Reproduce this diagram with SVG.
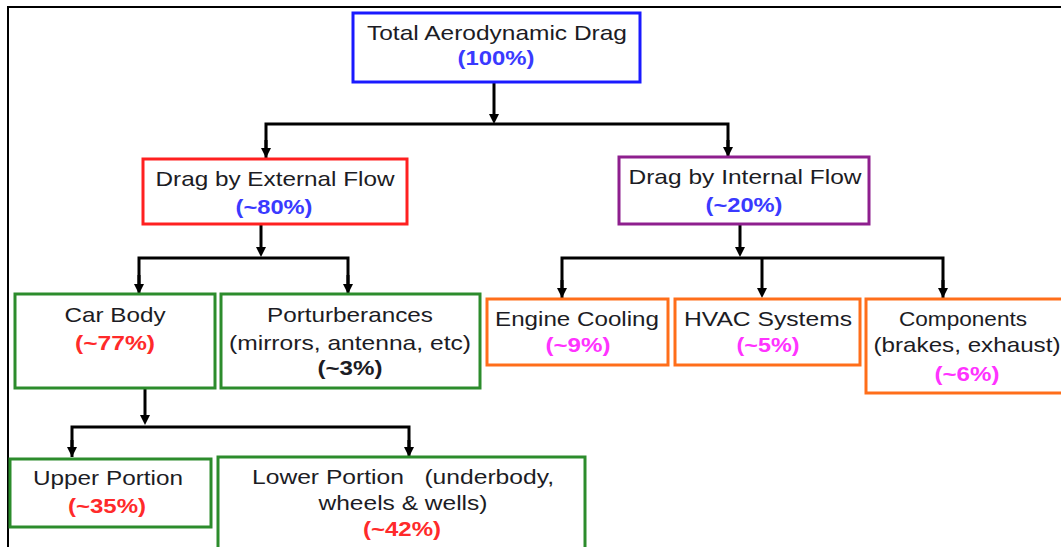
<svg xmlns="http://www.w3.org/2000/svg" width="1061" height="547" viewBox="0 0 1061 547">
<style>
text{font-family:"Liberation Sans",Arial,sans-serif;font-size:21px;text-anchor:middle;fill:#1c1c24;white-space:pre}
.p{font-weight:bold}
.blue{fill:#3a3aff}.red{fill:#ff2a2a}.mag{fill:#ff33ff}.blk{fill:#1c1c24}
rect{fill:#fff;stroke-width:3}
.bb{stroke:#1a1aff}.rb{stroke:#ff2020}.pb{stroke:#8e1f8e}.gb{stroke:#2c8c2c}.ob{stroke:#ff6e1a}
.c line,.c path{stroke:#000;stroke-width:3;fill:none}
</style>
<defs>
<marker id="ah" viewBox="0 0 10 10" refX="2" refY="5" markerWidth="10" markerHeight="10" markerUnits="userSpaceOnUse" orient="auto">
<path d="M0,0 L10,5 L0,10 z" fill="#000"/>
</marker>
</defs>
<rect width="1061" height="547" style="fill:#fff;stroke:none"/>
<path d="M8,547 V7 H1061" style="fill:none;stroke:#000;stroke-width:2"/>

<g class="c" id="connectors">
<line x1="494" y1="82" x2="494" y2="116" marker-end="url(#ah)"/>
<path d="M266,158 V124 H728 V157"/>
<line x1="266" y1="140" x2="266" y2="150" marker-end="url(#ah)"/>
<line x1="728" y1="140" x2="728" y2="149" marker-end="url(#ah)"/>
<line x1="261" y1="224" x2="261" y2="249" marker-end="url(#ah)"/>
<path d="M139,294 V258 H348 V294"/>
<line x1="139" y1="275" x2="139" y2="286" marker-end="url(#ah)"/>
<line x1="348" y1="275" x2="348" y2="286" marker-end="url(#ah)"/>
<line x1="740" y1="224" x2="740" y2="249" marker-end="url(#ah)"/>
<path d="M562,298 V258 H943 V298"/>
<line x1="562" y1="280" x2="562" y2="290" marker-end="url(#ah)"/>
<line x1="762" y1="258" x2="762" y2="290" marker-end="url(#ah)"/>
<line x1="943" y1="280" x2="943" y2="290" marker-end="url(#ah)"/>
<line x1="145" y1="388" x2="145" y2="417" marker-end="url(#ah)"/>
<path d="M72,457 V427 H409 V457"/>
<line x1="72" y1="440" x2="72" y2="449" marker-end="url(#ah)"/>
<line x1="409" y1="440" x2="409" y2="449" marker-end="url(#ah)"/>
</g>

<g id="total">
<rect class="bb" x="353" y="13" width="287" height="69"/>
<text x="497" y="40" textLength="260" lengthAdjust="spacingAndGlyphs">Total Aerodynamic Drag</text>
<text class="p blue" x="496" y="65" textLength="77" lengthAdjust="spacingAndGlyphs">(100%)</text>
</g>

<g id="external">
<rect class="rb" x="143" y="159" width="264" height="65"/>
<text x="275" y="186" textLength="239" lengthAdjust="spacingAndGlyphs">Drag by External Flow</text>
<text class="p blue" x="274" y="214" textLength="77" lengthAdjust="spacingAndGlyphs">(~80%)</text>
</g>

<g id="internal">
<rect class="pb" x="619" y="157" width="250" height="67"/>
<text x="745" y="184" textLength="233" lengthAdjust="spacingAndGlyphs">Drag by Internal Flow</text>
<text class="p blue" x="744" y="212" textLength="77" lengthAdjust="spacingAndGlyphs">(~20%)</text>
</g>

<g id="carbody">
<rect class="gb" x="15" y="294" width="200" height="94"/>
<text x="115" y="322" textLength="101" lengthAdjust="spacingAndGlyphs">Car Body</text>
<text class="p red" x="115" y="350" textLength="80" lengthAdjust="spacingAndGlyphs">(~77%)</text>
</g>

<g id="protuberances">
<rect class="gb" x="221" y="294" width="259" height="94"/>
<text x="350" y="322" textLength="166" lengthAdjust="spacingAndGlyphs">Porturberances</text>
<text x="350" y="350" textLength="242" lengthAdjust="spacingAndGlyphs">(mirrors, antenna, etc)</text>
<text class="p blk" x="350" y="375" textLength="65" lengthAdjust="spacingAndGlyphs">(~3%)</text>
</g>

<g id="engine">
<rect class="ob" x="487" y="299" width="181" height="66"/>
<text x="577" y="326" textLength="164" lengthAdjust="spacingAndGlyphs">Engine Cooling</text>
<text class="p mag" x="578" y="352" textLength="65" lengthAdjust="spacingAndGlyphs">(~9%)</text>
</g>

<g id="hvac">
<rect class="ob" x="675" y="299" width="185" height="66"/>
<text x="768" y="326" textLength="168" lengthAdjust="spacingAndGlyphs">HVAC Systems</text>
<text class="p mag" x="768" y="352" textLength="63" lengthAdjust="spacingAndGlyphs">(~5%)</text>
</g>

<g id="components">
<rect class="ob" x="866" y="299" width="200" height="94"/>
<text x="963" y="326" textLength="128" lengthAdjust="spacingAndGlyphs">Components</text>
<text x="967" y="352" textLength="187" lengthAdjust="spacingAndGlyphs">(brakes, exhaust)</text>
<text class="p mag" x="967" y="381" textLength="65" lengthAdjust="spacingAndGlyphs">(~6%)</text>
</g>

<g id="upper">
<rect class="gb" x="10" y="459" width="201" height="68"/>
<text x="108" y="485" textLength="150" lengthAdjust="spacingAndGlyphs">Upper Portion</text>
<text class="p red" x="107" y="513" textLength="78" lengthAdjust="spacingAndGlyphs">(~35%)</text>
</g>

<g id="lower">
<rect class="gb" x="218" y="457" width="367" height="100"/>
<text x="403" y="484" textLength="302" lengthAdjust="spacingAndGlyphs">Lower Portion   (underbody,</text>
<text x="403" y="510" textLength="169" lengthAdjust="spacingAndGlyphs">wheels &amp; wells)</text>
<text class="p red" x="402" y="536" textLength="78" lengthAdjust="spacingAndGlyphs">(~42%)</text>
</g>
</svg>
